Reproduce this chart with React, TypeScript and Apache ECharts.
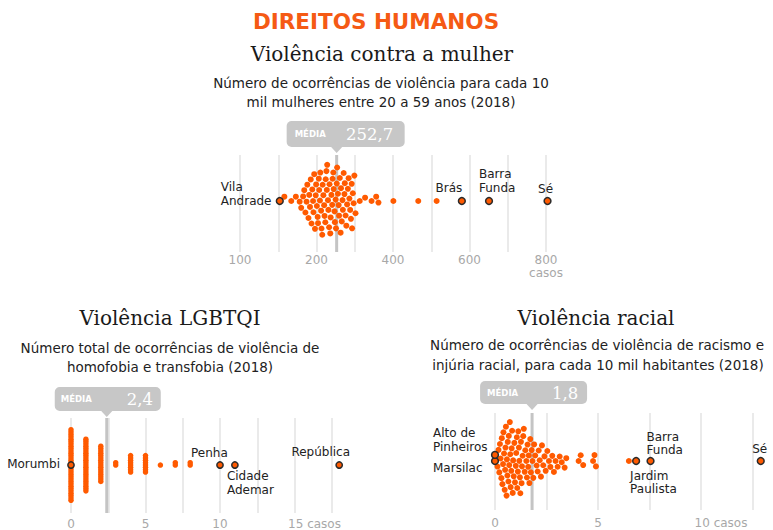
import React, { useEffect, useRef } from "react";
import * as echarts from "echarts";

const COR = "#ff5a00";
const SANS = "DejaVu Sans";
const SERIF = "DejaVu Serif";

// ---------- Violência contra a mulher (por 10 mil mulheres) ----------
const mulherNomes = ["Vila\nAndrade", "Brás", "Barra\nFunda", "Sé"];
const mulherDestaques = [104, 580, 651, 804];
const mulherOutros = [
  116, 134, 146,
  156, 160, 165, 168,
  171, 174, 176, 179, 181, 183, 185, 187, 189,
  191, 192, 194, 196, 198, 199, 201, 203, 204, 206, 207, 209, 210,
  212, 213, 215, 216, 218, 220, 221, 223, 224, 226, 227, 228, 230,
  231, 233, 234, 236, 237, 239, 241, 242, 244, 245, 247, 248, 250,
  251, 253, 254, 256, 258, 259, 261, 263, 264, 266, 268, 269,
  271, 273, 274, 276, 278, 280, 282, 284, 286, 288,
  290, 292, 293, 295, 297, 299, 302,
  313, 327, 344, 356, 362, 401, 466, 514,
];
const mulherMedia = 252.7;
const mulherMediaTexto = "252,7";

// ---------- Violência LGBTQI (casos) ----------
const lgbtNomes = ["Morumbi", "Penha", "Cidade\nAdemar", "República"];
const lgbtDestaques = [0, 10, 11, 18];
const lgbtCasos = [0, 1, 2, 3, 4, 5, 6, 7, 8];
const lgbtQuantidade = [30, 23, 16, 2, 8, 8, 1, 2, 2];
const lgbtMedia = 2.4;
const lgbtMediaTexto = "2,4";

// ---------- Violência racial (por 10 mil habitantes) ----------
const racialNomes = ["Marsilac", "Alto de\nPinheiros", "Jardim\nPaulista", "Barra\nFunda", "Sé"];
const racialDestaques = [0, 0, 6.85, 7.55, 12.9];
const racialOutros = [
  0.12, 0.17, 0.21, 0.24, 0.27, 0.31, 0.33, 0.36, 0.39, 0.41, 0.44, 0.47, 0.49,
  0.51, 0.53, 0.56, 0.58, 0.6, 0.62, 0.65, 0.67, 0.69, 0.72, 0.74, 0.76, 0.79, 0.81, 0.83, 0.86, 0.88, 0.91, 0.94, 0.97,
  1.01, 1.03, 1.06, 1.08, 1.11, 1.13, 1.16, 1.18, 1.21, 1.23, 1.26, 1.29, 1.31, 1.34, 1.37, 1.4, 1.44, 1.47,
  1.52, 1.55, 1.58, 1.61, 1.64, 1.67, 1.71, 1.74, 1.78, 1.82, 1.86, 1.9, 1.95,
  2.02, 2.07, 2.12, 2.17, 2.23, 2.28, 2.34, 2.4, 2.46,
  2.54, 2.62, 2.69, 2.78, 2.86, 2.94,
  3.04, 3.14, 3.24,
  3.38, 3.46, 4.06, 4.16, 4.28, 4.76, 4.83, 4.9, 6.5,
];
const racialMedia = 1.8;
const racialMediaTexto = "1,8";

const lgbtOutros: number[] = [];
lgbtCasos.forEach((c, i) => {
  for (let k = 0; k < lgbtQuantidade[i]; k++) lgbtOutros.push(c);
});

function beeswarm(xs: number[], d: number): number[] {
  const idx = xs.map((_, i) => i).sort((a, b) => xs[a] - xs[b] || a - b);
  const placed: { x: number; y: number }[] = [];
  const ys: number[] = new Array(xs.length).fill(0);
  const d2 = d * d;
  for (const i of idx) {
    const x = xs[i];
    const near = placed.filter((p) => Math.abs(p.x - x) < d);
    const cands = [0];
    for (const p of near) {
      const h = Math.sqrt(d2 - (p.x - x) * (p.x - x));
      cands.push(p.y + h, p.y - h);
    }
    cands.sort((a, b) => Math.abs(a) - Math.abs(b) || b - a);
    let y = 0;
    for (const c of cands) {
      if (near.every((p) => (p.x - x) * (p.x - x) + (p.y - c) * (p.y - c) >= d2 - 1e-6)) {
        y = c;
        break;
      }
    }
    placed.push({ x, y });
    ys[i] = y;
  }
  return ys;
}

type Layout = {
  left: number; top: number; width: number; height: number; max: number; interval: number;
  centro: number; d: number; size: number; margin: number;
  esq: number; dir: number; topo: number; alt: number; mediaPad: number;
  rotulos: [number, number, string][];
  fmt: (v: number) => string;
};

const LAYOUTS: Layout[] = [
  {
    left: 240, top: 155, width: 306, height: 97, max: 800, interval: 100, centro: 201, d: 6.3, size: 6, margin: 1,
    esq: 50, dir: 68, topo: 121, alt: 26, mediaPad: 8,
    rotulos: [[-59, -7, "left"], [-13, -13, "center"], [-10, -20, "left"], [-2, -12, "center"]],
    fmt: (v) => (v === 0 ? "100" : v === 800 ? "800\ncasos" : v % 200 === 0 ? String(v) : ""),
  },
  {
    left: 71, top: 418, width: 260.75, height: 97, max: 17.5, interval: 2.5, centro: 466, d: 2.4, size: 5.5, margin: 4,
    esq: 52, dir: 54, topo: 387, alt: 24, mediaPad: 6,
    rotulos: [[-11, -1, "right"], [-29, -12, "left"], [-8, 18, "left"], [-18.5, -13, "center"]],
    fmt: (v) => (v === 15 ? "{c|15 casos}" : v % 5 === 0 ? String(v) : ""),
  },
  {
    left: 495, top: 413, width: 257.5, height: 97, max: 12.5, interval: 2.5, centro: 461, d: 6.1, size: 6,
    margin: 6.5,
    esq: 52, dir: 55, topo: 381, alt: 23, mediaPad: 7,
    rotulos: [[-62, 7.3, "left"], [-62, -14.7, "left"], [-6, 21.3, "left"], [-4, -17.5, "left"], [-1, -12, "center"]],
    fmt: (v) => (v === 10 ? "{c|10 casos}" : v % 5 === 0 ? String(v) : ""),
  },
];

const PAINEIS = [
  { nomes: mulherNomes, destaques: mulherDestaques, outros: mulherOutros, media: mulherMedia, mediaTexto: mulherMediaTexto },
  { nomes: lgbtNomes, destaques: lgbtDestaques, outros: lgbtOutros, media: lgbtMedia, mediaTexto: lgbtMediaTexto },
  { nomes: racialNomes, destaques: racialDestaques, outros: racialOutros, media: racialMedia, mediaTexto: racialMediaTexto },
];

function buildOption() {
  const grid: any[] = [];
  const xAxis: any[] = [];
  const yAxis: any[] = [];
  const series: any[] = [];
  const elements: any[] = [];

  PAINEIS.forEach((p, i) => {
    const L = LAYOUTS[i];
    const yMin = -(L.top + L.height - L.centro);
    const yMax = L.centro - L.top;
    grid.push({ left: L.left, top: L.top, width: L.width, height: L.height });
    xAxis.push({
      gridIndex: i, type: "value", min: 0, max: L.max, interval: L.interval,
      axisLine: { show: false }, axisTick: { show: false },
      splitLine: { show: true, lineStyle: { color: "#e3e3e3", width: 1.5 } },
      axisLabel: {
        show: true, showMinLabel: true, showMaxLabel: true, margin: L.margin,
        color: "#a8a8a8", fontSize: 12, fontFamily: SANS, lineHeight: 13,
        formatter: L.fmt,
        rich: { c: { padding: [0, 0, 0, 40], color: "#a8a8a8", fontSize: 12, fontFamily: SANS } },
      },
    });
    yAxis.push({ gridIndex: i, type: "value", min: yMin, max: yMax, show: false });

    const all = [...p.destaques, ...p.outros];
    const k = L.width / L.max;
    const ys = beeswarm(all.map((v) => v * k), L.d);
    const nD = p.destaques.length;

    series.push({
      type: "line", xAxisIndex: i, yAxisIndex: i, z: 1, silent: true, symbol: "none",
      lineStyle: { color: "#c4c4c4", width: 3 },
      data: [[p.media, yMin], [p.media, yMax]],
    });
    series.push({
      type: "scatter", xAxisIndex: i, yAxisIndex: i, z: 2, silent: true, clip: false,
      symbolSize: L.size, itemStyle: { color: COR, opacity: 1 },
      data: p.outros.map((v, j) => [v, ys[nD + j]]),
    });
    series.push({
      type: "scatter", xAxisIndex: i, yAxisIndex: i, z: 3, silent: true, clip: false,
      symbolSize: L.size + 0.8, itemStyle: { color: COR, borderColor: "#2a2a2a", borderWidth: 1.5, opacity: 1 },
      data: p.destaques.map((v, j) => ({
        value: [v, ys[j]], name: p.nomes[j],
        label: {
          show: true, position: "inside", offset: [L.rotulos[j][0], L.rotulos[j][1]],
          align: L.rotulos[j][2], verticalAlign: "middle",
          color: "#222", fontSize: 12, fontFamily: SANS, lineHeight: 13.5,
          formatter: (q: any) => q.name,
        },
      })),
    });

    // caixa da média
    const mx = L.left + (p.media / L.max) * L.width;
    const caixaCor = "#c7c7c7";
    elements.push({
      type: "rect", shape: { x: mx - L.esq, y: L.topo, width: L.esq + L.dir, height: L.alt, r: 5 },
      style: { fill: caixaCor },
    });
    elements.push({
      type: "polygon",
      shape: { points: [[mx - 6, L.topo + L.alt - 0.5], [mx + 6, L.topo + L.alt - 0.5], [mx, L.topo + L.alt + 6]] },
      style: { fill: caixaCor },
    });
    elements.push({
      type: "text", x: mx - L.esq + L.mediaPad, y: L.topo + L.alt / 2,
      style: {
        text: "MÉDIA", fill: "#fff", fontFamily: SANS, fontWeight: "bold", fontSize: 8.5,
        align: "left", verticalAlign: "middle", textAlign: "left", textVerticalAlign: "middle",
      },
    });
    elements.push({
      type: "text", x: mx + 33, y: L.topo + L.alt / 2 + 0.5,
      style: {
        text: p.mediaTexto, fill: "#fff", fontFamily: SERIF, fontSize: 16.5,
        align: "center", verticalAlign: "middle", textAlign: "center", textVerticalAlign: "middle",
      },
    });
  });

  const txt = (text: string, x: number, y: number, size: number, family: string, fill: string, weight = "normal") => ({
    type: "text", x, y,
    style: {
      text, fill, fontFamily: family, fontSize: size, fontWeight: weight,
      align: "center", verticalAlign: "middle", textAlign: "center", textVerticalAlign: "middle",
    },
  });

  elements.push(txt("DIREITOS HUMANOS", 376, 21, 21.5, SANS, "#f55a14", "bold"));
  elements.push(txt("Violência contra a mulher", 382, 54, 20, SERIF, "#1a1a1a"));
  elements.push(txt("Número de ocorrências de violência para cada 10", 381, 83, 13.5, SANS, "#222"));
  elements.push(txt("mil mulheres entre 20 a 59 anos (2018)", 381, 101.5, 13.5, SANS, "#222"));
  elements.push(txt("Violência LGBTQI", 170, 318, 20, SERIF, "#1a1a1a"));
  elements.push(txt("Número total de ocorrências de violência de", 170, 347.5, 13.5, SANS, "#222"));
  elements.push(txt("homofobia e transfobia (2018)", 170, 366.5, 13.5, SANS, "#222"));
  elements.push(txt("Violência racial", 596, 318, 20, SERIF, "#1a1a1a"));
  elements.push(txt("Número de ocorrências de violência de racismo e", 597, 345, 13.5, SANS, "#222"));
  elements.push(txt("injúria racial, para cada 10 mil habitantes (2018)", 598, 364.5, 13.5, SANS, "#222"));

  return {
    animation: false,
    backgroundColor: "#ffffff",
    grid, xAxis, yAxis, series,
    graphic: { elements },
  };
}

export default function App() {
  const ref = useRef<HTMLDivElement>(null);
  useEffect(() => {
    if (!ref.current) return;
    const chart = echarts.init(ref.current, null, { renderer: "svg" });
    chart.setOption(buildOption() as any);
    return () => chart.dispose();
  }, []);
  return (
    <div
      ref={ref}
      style={{ width: 773, height: 530, position: "absolute", left: 0, top: 0 }}
    />
  );
}
